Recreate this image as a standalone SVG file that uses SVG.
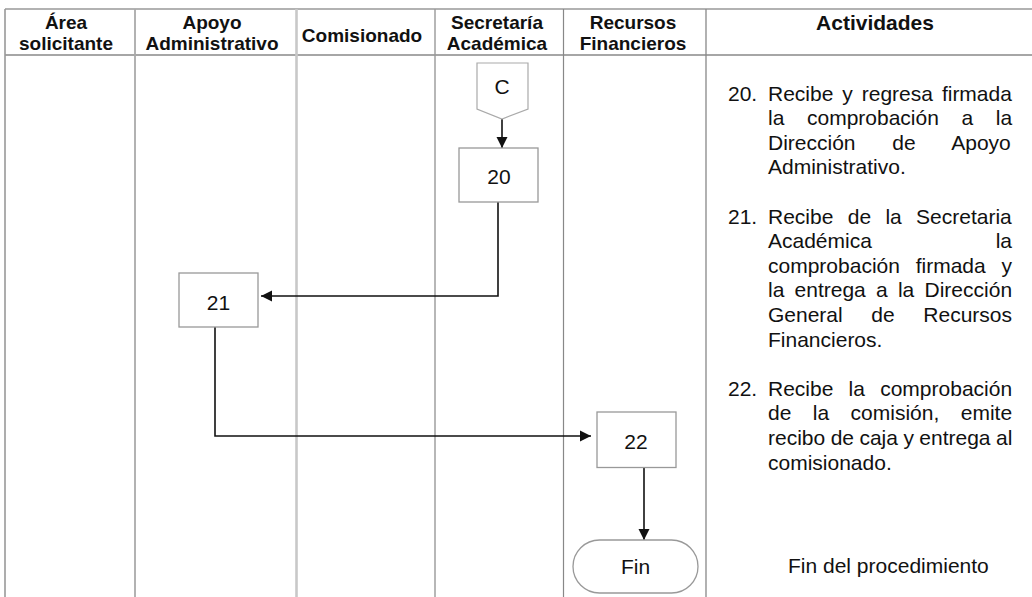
<svg xmlns="http://www.w3.org/2000/svg" width="1032" height="597" viewBox="0 0 1032 597">
<defs>
<style>
.hd{font-family:"Liberation Sans",Arial,sans-serif;font-weight:bold;font-size:19px;fill:#111;text-anchor:middle}
.act{font-family:"Liberation Sans",Arial,sans-serif;font-size:21px;fill:#111}
.nt{font-family:"Liberation Sans",Arial,sans-serif;font-size:21px;fill:#111;text-anchor:middle}
.box{fill:#fff;stroke:#999;stroke-width:1.3}
.con{fill:none;stroke:#111;stroke-width:1.6}
</style>
<marker id="ah" viewBox="0 0 10 10" refX="10" refY="5" markerWidth="7" markerHeight="7" markerUnits="strokeWidth" orient="auto">
<path d="M0,0 L10,5 L0,10 Z" fill="#111"/>
</marker>
</defs>
<rect x="0" y="0" width="1032" height="597" fill="#fff"/>
<g id="table">
<line x1="5" y1="9" x2="1032" y2="9" stroke="#999" stroke-width="1.5"/>
<line x1="5" y1="55" x2="1032" y2="55" stroke="#888" stroke-width="1.5"/>
<line x1="5" y1="9" x2="5" y2="597" stroke="#999" stroke-width="1.6"/>
<line x1="135" y1="9" x2="135" y2="597" stroke="#aaa" stroke-width="1.8"/>
<line x1="296.5" y1="9" x2="296.5" y2="597" stroke="#c8c8c8" stroke-width="2.6"/>
<line x1="435" y1="9" x2="435" y2="597" stroke="#999" stroke-width="1.4"/>
<line x1="563.5" y1="9" x2="563.5" y2="597" stroke="#888" stroke-width="1.2"/>
<line x1="706" y1="9" x2="706" y2="597" stroke="#888" stroke-width="1.3"/>
<text class="hd" x="66" y="29">Área</text>
<text class="hd" x="66" y="49.5">solicitante</text>
<text class="hd" x="212" y="29">Apoyo</text>
<text class="hd" x="212" y="49.5">Administrativo</text>
<text class="hd" x="362" y="42">Comisionado</text>
<text class="hd" x="497" y="29">Secretaría</text>
<text class="hd" x="497" y="49.5">Académica</text>
<text class="hd" x="633" y="29">Recursos</text>
<text class="hd" x="633" y="49.5">Financieros</text>
<text class="hd" x="875" y="30" style="font-size:21px">Actividades</text>
</g>
<g id="connectors">
<line class="con" x1="502" y1="119" x2="502" y2="148" marker-end="url(#ah)"/>
<path class="con" d="M498,202 V296 H261" marker-end="url(#ah)"/>
<path class="con" d="M215,327 V436 H591" marker-end="url(#ah)"/>
<line class="con" x1="644" y1="467.5" x2="644" y2="540" marker-end="url(#ah)"/>
</g>
<g id="node-C">
<polygon points="477,63 528,63 528,109 502,119 477,109" fill="#fff" stroke="#aaa" stroke-width="1.2"/>
<text class="nt" x="502" y="93.5">C</text>
</g>
<g id="node-20">
<rect class="box" x="459" y="148" width="79" height="54"/>
<text class="nt" x="499" y="183.5">20</text>
</g>
<g id="node-21">
<rect class="box" x="179" y="273" width="79" height="54"/>
<text class="nt" x="218.5" y="309.5">21</text>
</g>
<g id="node-22">
<rect class="box" x="597" y="412" width="79" height="55.5"/>
<text class="nt" x="636" y="448.5">22</text>
</g>
<g id="node-fin">
<rect class="box" x="573" y="540" width="125" height="53" rx="26.5" ry="26.5"/>
<text class="nt" x="635.5" y="574">Fin</text>
</g>
<g id="activities">
<text class="act" x="728" y="100.5">20.</text>
<text class="act" x="768" y="100.5" word-spacing="3.1">Recibe y regresa firmada</text>
<text class="act" x="768" y="125.1" word-spacing="16.8">la comprobación a la</text>
<text class="act" x="768" y="149.7" word-spacing="30.9">Dirección de Apoyo</text>
<text class="act" x="768" y="174.3">Administrativo.</text>
<text class="act" x="728" y="223.5">21.</text>
<text class="act" x="768" y="223.5" word-spacing="8.5">Recibe de la Secretaria</text>
<text class="act" x="768" y="248.1">Académica</text>
<text class="act" x="1012" y="248.1" text-anchor="end">la</text>
<text class="act" x="768" y="272.7" word-spacing="9.9">comprobación firmada y</text>
<text class="act" x="768" y="297.3" word-spacing="4.4">la entrega a la Dirección</text>
<text class="act" x="768" y="321.9" word-spacing="22.8">General de Recursos</text>
<text class="act" x="768" y="346.5">Financieros.</text>
<text class="act" x="728" y="395.7">22.</text>
<text class="act" x="768" y="395.7" word-spacing="9.4">Recibe la comprobación</text>
<text class="act" x="768" y="420.3" word-spacing="15.6">de la comisión, emite</text>
<text class="act" x="768" y="444.9" word-spacing="-0.4">recibo de caja y entrega al</text>
<text class="act" x="768" y="469.5">comisionado.</text>
<text class="act" x="788" y="573">Fin del procedimiento</text>
</g>
</svg>
